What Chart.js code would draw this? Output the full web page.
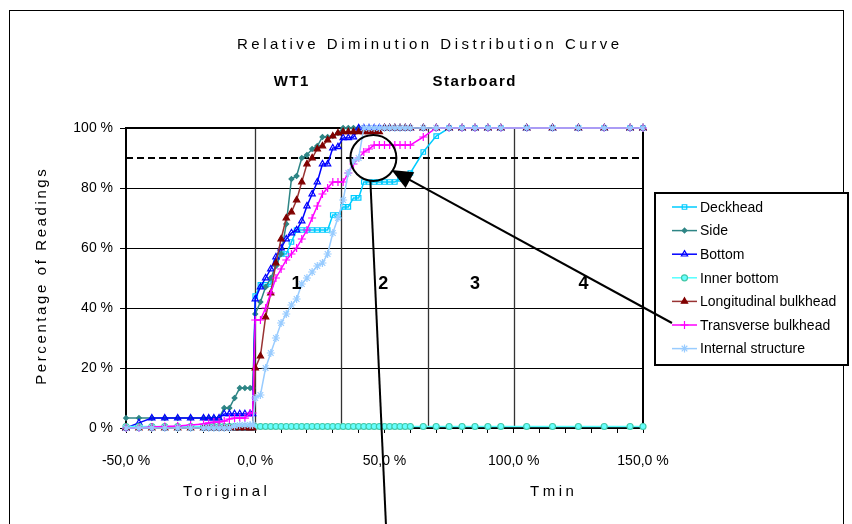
<!DOCTYPE html>
<html>
<head>
<meta charset="utf-8">
<script src="https://cdn.jsdelivr.net/npm/chart.js@4.4.1/dist/chart.umd.min.js"></script>
<style>
  html, body { margin: 0; padding: 0; background: #fff; }
  #chart { display: block; }
</style>
</head>
<body>
<canvas id="chart" width="852" height="524"></canvas>
<script>
'use strict';

// Relative diminution bins (%), shared by every series.
const xGrid = [
    -50, -45, -40, -35, -30, -25, -20, -18, -16, -14, -12, -10, -8, -6, -4, -2, -1,
    0, 2, 4, 6, 8, 10, 12, 14, 16, 18, 20, 22, 24, 26, 28, 30, 32, 34, 36, 38, 40, 42, 44, 46, 48, 50, 52, 54, 56, 58, 60,
    65, 70, 75, 80, 85, 90, 95, 105, 115, 125, 135, 145, 150,
];

// Cumulative percentage of readings per location.
const deckhead = [
    0, 0, 0, 0, 0, 0, 0, 0, 0, 0, 0, 0, 0, 0, 0, 0, 0,
    44, 47.7, 47.7, 48, 55, 58, 58, 62, 66, 66, 66, 66, 66, 66, 66, 71, 71, 73.7, 73.7, 76.7, 76.7, 82, 82, 82, 82, 82, 82, 82, 83, 84, 85,
    92, 97.3, 100, 100, 100, 100, 100, 100, 100, 100, 100, 100, 100,
];
const side = [
    3.3, 3.3, 3.3, 3.3, 3.3, 3.3, 3.3, 3.3, 3.3, 3.3, 6.7, 6.7, 10, 13.3, 13.3, 13.3, 13.3,
    38, 42, 47, 50, 54, 58, 68, 83, 84, 90, 91, 93, 94, 97, 97, 97.3, 98.3, 100, 100, 100, 100, 100, 100, 100, 100, 100, 100, 100, 100, 100, 100,
    100, 100, 100, 100, 100, 100, 100, 100, 100, 100, 100, 100, 100,
];
const bottom = [
    0, 1.7, 3.3, 3.3, 3.3, 3.3, 3.3, 3.3, 3.3, 3.3, 4.7, 4.7, 4.7, 4.7, 4.7, 4.7, 4.7,
    43, 47, 50, 53, 57, 60, 63, 65, 66, 69, 74, 78, 82, 88, 88, 93.3, 93.7, 96.7, 96.7, 97, 100, 100, 100, 100, 100, 100, 100, 100, 100, 100, 100,
    100, 100, 100, 100, 100, 100, 100, 100, 100, 100, 100, 100, 100,
];
const innerBottom = [
    0.5, 0.5, 0.5, 0.5, 0.5, 0.5, 0.5, 0.5, 0.5, 0.5, 0.5, 0.5, 0.5, 0.5, 0.5, 0.5, 0.5,
    0.5, 0.5, 0.5, 0.5, 0.5, 0.5, 0.5, 0.5, 0.5, 0.5, 0.5, 0.5, 0.5, 0.5, 0.5, 0.5, 0.5, 0.5, 0.5, 0.5, 0.5, 0.5, 0.5, 0.5, 0.5, 0.5, 0.5, 0.5, 0.5, 0.5, 0.5,
    0.5, 0.5, 0.5, 0.5, 0.5, 0.5, 0.5, 0.5, 0.5, 0.5, 0.5, 0.5, 0.5,
];
const longBulkhead = [
    0, 0, 0, 0, 0, 0, 0, 0, 0, 0, 0, 0, 0, 0, 0, 0, 0,
    20, 24, 37, 45, 55, 63, 70, 72, 76, 82, 88, 90, 93, 94, 96, 97.3, 98.3, 98.7, 98.7, 98.7, 98.7, 98.7, 98.7, 98.7, 98.7, 100, 100, 100, 100, 100, 100,
    100, 100, 100, 100, 100, 100, 100, 100, 100, 100, 100, 100, 100,
];
const transBulkhead = [
    0, 0, 0.3, 0.5, 0.7, 1, 1.3, 1.7, 2, 2, 2.3, 3, 3.3, 3.3, 3.3, 5, 5,
    36, 36, 40, 45, 50, 53, 56, 58, 60, 63, 66, 70, 74, 78, 80, 82, 82, 82, 85, 88, 90, 92, 93, 94.3, 94.3, 94.3, 94.3, 94.3, 94.3, 94.3, 94.3,
    97, 100, 100, 100, 100, 100, 100, 100, 100, 100, 100, 100, 100,
];
const internal = [
    0, 0, 0, 0, 0, 0, 0, 0, 0, 0, 0, 0, 0.7, 1, 1, 1, 1,
    10, 11, 20, 25, 30, 35, 38, 41, 43, 48, 50, 52, 54, 55, 58, 65, 70, 76, 85, 89, 90, 100, 100, 100, 100, 100, 100, 100, 100, 100, 100,
    100, 100, 100, 100, 100, 100, 100, 100, 100, 100, 100, 100, 100,
];

const seriesNames = [
    'Deckhead', 'Side', 'Bottom', 'Inner bottom',
    'Longitudinal bulkhead', 'Transverse bulkhead', 'Internal structure',
];
const seriesValues = [deckhead, side, bottom, innerBottom, longBulkhead, transBulkhead, internal];

// Region boundaries (Toriginal .. Tmin) and the 90 % reference level.
const regionBounds = [0, 33.3, 66.7, 100];
const regionLabels = ['1', '2', '3', '4'];
const regionLabelX = [16, 49.5, 85, 127];
const regionLabelY = 48;
const targetLevel = 90;

const xTickLabels = {'-50': '-50,0 %', '0': '0,0 %', '50': '50,0 %', '100': '100,0 %', '150': '150,0 %'};

// Marker/line look of each series.
const seriesStyles = [
    {line: '#00CCFF', fill: 'rgba(255,255,255,0)', stroke: '#00CCFF', shape: 'rect', r: 3.2},
    {line: '#2E8585', fill: '#2E8585', stroke: '#2E8585', shape: 'rectRot', r: 2.4},
    {line: '#0000FF', fill: 'rgba(255,255,255,0)', stroke: '#0000FF', shape: 'triangle', r: 3.6},
    {line: '#55FFFF', fill: '#66FFFF', stroke: '#44C8A8', shape: 'circle', r: 3},
    {line: '#993333', fill: '#800000', stroke: '#800000', shape: 'triangle', r: 3.6},
    {line: '#FF00FF', fill: '#FF00FF', stroke: '#FF00FF', shape: 'cross', r: 4},
    {line: '#99CCFF', fill: '#99CCFF', stroke: '#99CCFF', shape: 'star', r: 4},
];

const FONT = '"Liberation Sans", Arial, sans-serif';

const datasets = seriesValues.map((values, i) => ({
    label: seriesNames[i],
    data: xGrid.map((x, j) => ({x: x, y: values[j]})),
    borderColor: seriesStyles[i].line,
    borderWidth: 1.5,
    pointStyle: seriesStyles[i].shape,
    pointRadius: seriesStyles[i].r,
    pointBackgroundColor: seriesStyles[i].fill,
    pointBorderColor: seriesStyles[i].stroke,
    pointBorderWidth: 1.2,
    tension: 0,
    clip: 8,
    order: seriesValues.length - i,
}));

/**
 * Draw text with extra letter spacing, centred on (x, y).
 */
const spacedText = (ctx, str, x, y, font, spacing, rot) => {
    ctx.save();
    ctx.font = font;
    ctx.letterSpacing = spacing + 'px';
    ctx.fillStyle = '#000';
    ctx.textAlign = 'center';
    ctx.textBaseline = 'middle';
    ctx.translate(x, y);
    if (rot) {
        ctx.rotate(rot);
    }
    ctx.fillText(str, spacing / 2, 0);
    ctx.restore();
};

const decor = {
    id: 'decor',
    beforeDraw(chart) {
        const ctx = chart.ctx;
        ctx.save();
        ctx.fillStyle = '#fff';
        ctx.fillRect(0, 0, chart.width, chart.height);
        ctx.strokeStyle = '#000';
        ctx.lineWidth = 1;
        ctx.strokeRect(9.5, 10.5, 834, 530);
        ctx.restore();
    },
    beforeDatasetsDraw(chart) {
        const {ctx, chartArea: a, scales: {x, y}} = chart;
        ctx.save();
        // Region separators.
        ctx.strokeStyle = '#333';
        ctx.lineWidth = 1.3;
        regionBounds.forEach((v) => {
            const px = Math.round(x.getPixelForValue(v)) + 0.5;
            ctx.beginPath();
            ctx.moveTo(px, a.top);
            ctx.lineTo(px, a.bottom);
            ctx.stroke();
        });
        // 90 % level.
        ctx.strokeStyle = '#000';
        ctx.lineWidth = 2;
        ctx.setLineDash([7, 4]);
        const py = Math.round(y.getPixelForValue(targetLevel));
        ctx.beginPath();
        ctx.moveTo(a.left, py);
        ctx.lineTo(a.right, py);
        ctx.stroke();
        ctx.setLineDash([]);
        // Plot frame.
        ctx.strokeRect(a.left, a.top, a.right - a.left, a.bottom - a.top);
        ctx.restore();
    },
    afterDatasetsDraw(chart) {
        const {ctx, scales: {x, y}} = chart;

        // Region numbers.
        regionLabels.forEach((t, i) => {
            spacedText(ctx, t, x.getPixelForValue(regionLabelX[i]), y.getPixelForValue(regionLabelY),
                'bold 18px ' + FONT, 0);
        });

        // Callout circle with its leader line.
        ctx.save();
        ctx.strokeStyle = '#000';
        ctx.lineWidth = 2;
        const cx = x.getPixelForValue(45.7);
        const cy = y.getPixelForValue(90);
        ctx.beginPath();
        ctx.arc(cx, cy, 23, 0, Math.PI * 2);
        ctx.stroke();
        ctx.beginPath();
        ctx.moveTo(cx - 3, cy + 23);
        ctx.lineTo(x.getPixelForValue(50.6), y.getPixelForValue(-33));
        ctx.stroke();

        // Arrow from the legend to the circle.
        const sx = x.getPixelForValue(161.2);
        const sy = y.getPixelForValue(35);
        const tx = x.getPixelForValue(52.7);
        const ty = y.getPixelForValue(86);
        const len = Math.hypot(tx - sx, ty - sy);
        const ux = (tx - sx) / len;
        const uy = (ty - sy) / len;
        ctx.beginPath();
        ctx.moveTo(sx, sy);
        ctx.lineTo(tx - ux * 14, ty - uy * 14);
        ctx.stroke();
        ctx.fillStyle = '#000';
        ctx.beginPath();
        ctx.moveTo(tx, ty);
        ctx.lineTo(tx - ux * 21 - uy * 9, ty - uy * 21 + ux * 9);
        ctx.lineTo(tx - ux * 21 + uy * 9, ty - uy * 21 - ux * 9);
        ctx.closePath();
        ctx.fill();
        ctx.restore();

        // Legend box.
        ctx.save();
        ctx.fillStyle = '#fff';
        ctx.fillRect(655, 193, 193, 172);
        ctx.strokeStyle = '#000';
        ctx.lineWidth = 2;
        ctx.strokeRect(655, 193, 193, 172);
        // the arrow tail runs into the legend up to the transverse bulkhead sample
        ctx.lineWidth = 2;
        ctx.beginPath();
        ctx.moveTo(655, sy + (655 - sx) * uy / ux);
        ctx.lineTo(sx, sy);
        ctx.stroke();
        seriesNames.forEach((name, i) => {
            const st = seriesStyles[i];
            const ly = 207 + i * 23.6;
            ctx.strokeStyle = st.line;
            ctx.lineWidth = 1.5;
            ctx.beginPath();
            ctx.moveTo(672, ly);
            ctx.lineTo(697, ly);
            ctx.stroke();
            ctx.fillStyle = st.fill;
            ctx.strokeStyle = st.stroke;
            ctx.lineWidth = 1.2;
            Chart.helpers.drawPoint(ctx, {pointStyle: st.shape, radius: st.r, rotation: 0, borderWidth: 1.2},
                684.5, ly);
            ctx.fillStyle = '#000';
            ctx.font = '14px ' + FONT;
            ctx.textAlign = 'left';
            ctx.textBaseline = 'middle';
            ctx.fillText(name, 700, ly + 1);
        });
        ctx.restore();

        // Titles.
        spacedText(ctx, 'Relative Diminution Distribution Curve', 428, 45, '15px ' + FONT, 3.5);
        spacedText(ctx, 'WT1', 291, 82, 'bold 15px ' + FONT, 1.5);
        spacedText(ctx, 'Starboard', 474, 82, 'bold 15px ' + FONT, 1.5);
        spacedText(ctx, 'Toriginal', 225, 492, '15px ' + FONT, 3.5);
        spacedText(ctx, 'Tmin', 552, 492, '15px ' + FONT, 3.5);
        spacedText(ctx, 'Percentage of Readings', 42, 277, '15px ' + FONT, 2.6, -Math.PI / 2);
    },
};

new Chart(document.getElementById('chart'), {
    type: 'line',
    data: {datasets: datasets},
    options: {
        responsive: false,
        animation: false,
        devicePixelRatio: 1,
        layout: {padding: {left: 0, top: 128, right: 209, bottom: 0}},
        plugins: {
            legend: {display: false},
            title: {display: false},
            tooltip: {enabled: false},
        },
        scales: {
            x: {
                type: 'linear',
                min: -50,
                max: 150,
                afterFit: (s) => {
                    s.height = 96;
                },
                ticks: {
                    stepSize: 10,
                    autoSkip: false,
                    maxRotation: 0,
                    padding: 20,
                    color: '#000',
                    font: {family: FONT, size: 14},
                    callback: (v) => xTickLabels[String(v)] || '',
                },
                grid: {drawOnChartArea: false, drawTicks: true, tickLength: 5, color: '#000'},
                border: {display: true, color: '#000', width: 1.5},
            },
            y: {
                type: 'linear',
                min: 0,
                max: 100,
                afterFit: (s) => {
                    s.width = 126;
                },
                ticks: {
                    stepSize: 20,
                    padding: 7,
                    color: '#000',
                    font: {family: FONT, size: 14},
                    callback: (v) => v + ' %',
                },
                grid: {color: '#000', lineWidth: 1, tickLength: 6},
                border: {display: true, color: '#000', width: 2},
            },
        },
    },
    plugins: [decor],
});
</script>
</body>
</html>
